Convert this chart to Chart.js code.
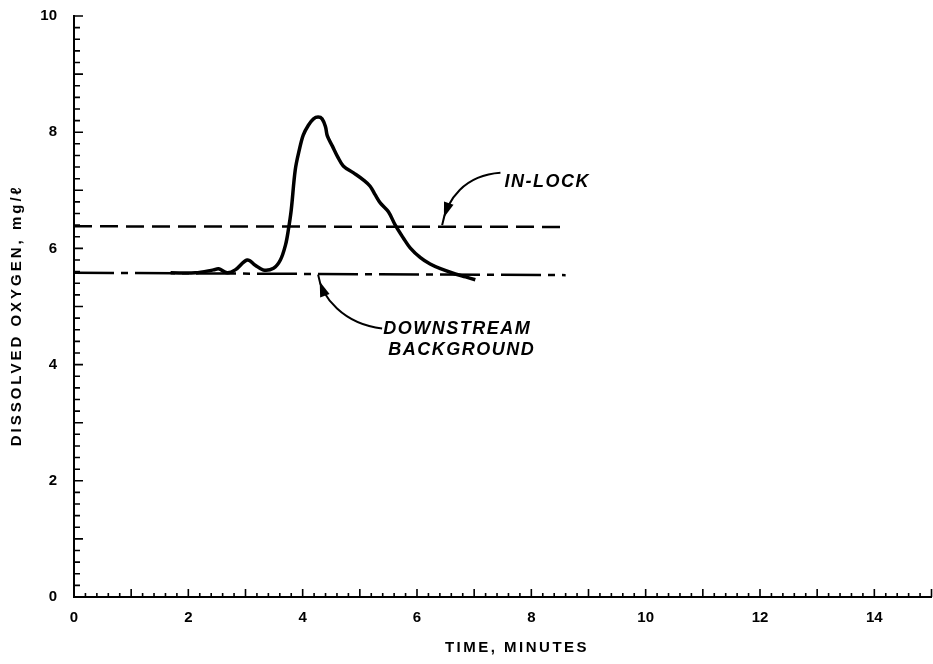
<!DOCTYPE html>
<html>
<head>
<meta charset="utf-8">
<script src="https://cdn.jsdelivr.net/npm/chart.js@4.4.1/dist/chart.umd.min.js"></script>
<style>
  html, body { margin: 0; padding: 0; background: #fff; }
  #wrap { width: 933px; height: 664px; position: relative; }
</style>
</head>
<body>
<div id="wrap"><canvas id="c" width="933" height="664"></canvas></div>
<script>
// ---- data ----
const timeMinutes = [1.69, 2.12, 2.44, 2.53, 2.68, 2.82, 3.03, 3.17, 3.31, 3.49, 3.61, 3.70, 3.75, 3.80, 3.87, 3.94, 4.01, 4.10, 4.19, 4.27, 4.34, 4.40, 4.43, 4.52, 4.61, 4.71, 4.89, 5.06, 5.18, 5.27, 5.36, 5.50, 5.62, 5.76, 5.88, 6.06, 6.23, 6.41, 6.67, 6.85, 7.02];
const dissolvedOxygen = [5.58, 5.58, 5.63, 5.65, 5.58, 5.63, 5.80, 5.71, 5.63, 5.66, 5.80, 6.06, 6.32, 6.66, 7.35, 7.69, 7.95, 8.12, 8.23, 8.26, 8.23, 8.09, 7.94, 7.76, 7.58, 7.42, 7.30, 7.18, 7.07, 6.92, 6.78, 6.63, 6.40, 6.18, 6.01, 5.84, 5.73, 5.65, 5.56, 5.51, 5.46];
const inLockTime = [0, 8.6];
const inLockDO = [6.38, 6.37];
const backgroundTime = [0, 8.6];
const backgroundDO = [5.58, 5.54];
const xTickLabels = [0, 2, 4, 6, 8, 10, 12, 14];
const yTickLabels = [0, 2, 4, 6, 8, 10];
const xTitle = 'TIME, MINUTES';
const yTitle = 'DISSOLVED OXYGEN, mg/\u2113';
const inLockLabel = ['IN-LOCK'];
const backgroundLabel = ['DOWNSTREAM', 'BACKGROUND'];

const toPts = (xs, ys) => xs.map((x, i) => ({ x: x, y: ys[i] }));

// annotation placement (data units)
const annotations = [
  { lines: inLockLabel, at: [7.53, 7.06], arrow: [[7.46, 7.30], [6.84, 7.26], [6.52, 6.85], [6.44, 6.40]] },
  { lines: backgroundLabel, at: [5.41, 4.53], arrow: [[5.39, 4.62], [4.72, 4.70], [4.33, 5.15], [4.27, 5.55]] }
];

const FONT = '"Liberation Sans", Arial, Helvetica, sans-serif';

const innerTicks = {
  id: 'innerTicks',
  afterDraw(chart) {
    const ctx = chart.ctx, xs = chart.scales.x, ys = chart.scales.y;
    const area = chart.chartArea;
    ctx.save();
    ctx.strokeStyle = '#000';
    ctx.lineWidth = 1.6;
    ctx.beginPath();
    for (let i = 0; i <= 75; i++) {
      const v = i / 5;
      const px = xs.getPixelForValue(v);
      const len = (i % 5 === 0) ? 8 : 4;
      ctx.moveTo(px, area.bottom);
      ctx.lineTo(px, area.bottom - len);
    }
    for (let i = 0; i <= 50; i++) {
      const v = i / 5;
      const py = ys.getPixelForValue(v);
      const len = (i % 5 === 0) ? 9 : 6;
      ctx.moveTo(area.left, py);
      ctx.lineTo(area.left + len, py);
    }
    ctx.stroke();
    ctx.restore();
  }
};

const titles = {
  id: 'titles',
  afterDraw(chart) {
    const ctx = chart.ctx, xs = chart.scales.x, ys = chart.scales.y;
    ctx.save();
    ctx.fillStyle = '#000';
    ctx.font = 'bold 15px ' + FONT;
    ctx.letterSpacing = '2.5px';
    ctx.textAlign = 'center';
    ctx.textBaseline = 'middle';
    ctx.fillText(xTitle, xs.getPixelForValue(7.75), xs.bottom - 16);
    ctx.translate(17, ys.getPixelForValue(4.85));
    ctx.rotate(-Math.PI / 2);
    ctx.letterSpacing = '3px';
    ctx.fillText(yTitle, 0, 0);
    ctx.restore();
  }
};

function bez(p, t) {
  const u = 1 - t;
  return [
    u*u*u*p[0][0] + 3*u*u*t*p[1][0] + 3*u*t*t*p[2][0] + t*t*t*p[3][0],
    u*u*u*p[0][1] + 3*u*u*t*p[1][1] + 3*u*t*t*p[2][1] + t*t*t*p[3][1]
  ];
}

const notes = {
  id: 'notes',
  afterDatasetsDraw(chart) {
    const ctx = chart.ctx, xs = chart.scales.x, ys = chart.scales.y;
    ctx.save();
    ctx.fillStyle = '#000';
    ctx.strokeStyle = '#000';
    annotations.forEach(a => {
      const P = a.arrow.map(p => [xs.getPixelForValue(p[0]), ys.getPixelForValue(p[1])]);
      ctx.lineWidth = 2;
      ctx.beginPath();
      ctx.moveTo(P[0][0], P[0][1]);
      ctx.bezierCurveTo(P[1][0], P[1][1], P[2][0], P[2][1], P[3][0], P[3][1]);
      ctx.stroke();
      // arrowhead
      const tip = bez(P, 0.9), back = bez(P, 0.82);
      const ang = Math.atan2(tip[1] - back[1], tip[0] - back[0]);
      const L = 15, W = 5;
      ctx.beginPath();
      ctx.moveTo(tip[0], tip[1]);
      ctx.lineTo(tip[0] - L * Math.cos(ang) + W * Math.sin(ang), tip[1] - L * Math.sin(ang) - W * Math.cos(ang));
      ctx.lineTo(tip[0] - L * Math.cos(ang) - W * Math.sin(ang), tip[1] - L * Math.sin(ang) + W * Math.cos(ang));
      ctx.closePath();
      ctx.fill();
      // text
      ctx.font = 'italic bold 18px ' + FONT;
      ctx.letterSpacing = '1.5px';
      ctx.textAlign = 'left';
      ctx.textBaseline = 'alphabetic';
      const x0 = xs.getPixelForValue(a.at[0]), y0 = ys.getPixelForValue(a.at[1]);
      a.lines.forEach((ln, i) => ctx.fillText(ln, x0 + i * 5, y0 + i * 21));
    });
    ctx.restore();
  }
};

new Chart(document.getElementById('c'), {
  type: 'scatter',
  data: {
    datasets: [
      { label: 'Dissolved oxygen', data: toPts(timeMinutes, dissolvedOxygen), showLine: true,
        borderColor: '#000', borderWidth: 3.5, tension: 0.35, pointRadius: 0, fill: false },
      { label: 'In-lock', data: toPts(inLockTime, inLockDO), showLine: true,
        borderColor: '#000', borderWidth: 2.5, borderDash: [18, 8], pointRadius: 0, fill: false },
      { label: 'Downstream background', data: toPts(backgroundTime, backgroundDO), showLine: true,
        borderColor: '#000', borderWidth: 2.5, borderDash: [40, 7, 7, 7], pointRadius: 0, fill: false }
    ]
  },
  options: {
    responsive: false,
    animation: false,
    layout: { padding: { top: 16, right: 1.5, left: 0, bottom: 0 } },
    plugins: { legend: { display: false }, tooltip: { enabled: false } },
    scales: {
      x: {
        type: 'linear', min: 0, max: 15,
        afterBuildTicks: s => { s.ticks = xTickLabels.map(v => ({ value: v })); },
        afterFit: s => { s.height = 67; s.paddingLeft = 0; s.paddingRight = 0; },
        grid: { display: false, drawTicks: false },
        border: { display: true, color: '#000', width: 2 },
        ticks: { color: '#000', padding: 12, maxRotation: 0, font: { family: FONT, size: 15, weight: 'bold' } }
      },
      y: {
        type: 'linear', min: 0, max: 10,
        afterBuildTicks: s => { s.ticks = yTickLabels.map(v => ({ value: v })); },
        afterFit: s => { s.width = 74; s.paddingTop = 0; s.paddingBottom = 0; },
        grid: { display: false, drawTicks: false },
        border: { display: true, color: '#000', width: 2 },
        ticks: { color: '#000', padding: 17, font: { family: FONT, size: 15, weight: 'bold' } }
      }
    }
  },
  plugins: [innerTicks, titles, notes]
});
</script>
</body>
</html>
